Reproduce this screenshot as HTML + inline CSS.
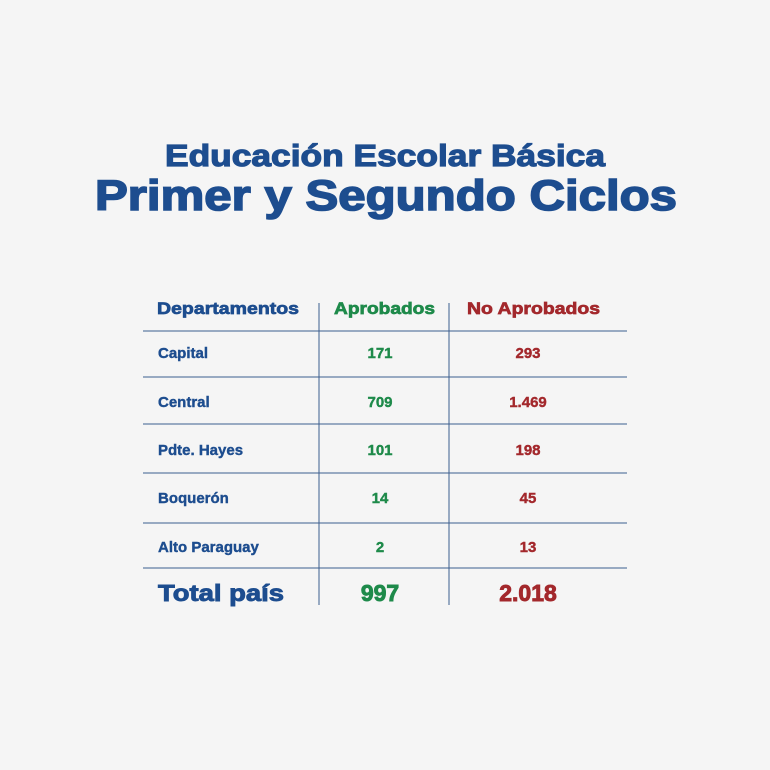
<!DOCTYPE html>
<html><head><style>
html,body{margin:0;padding:0;background:#f5f5f5;}
svg{display:block}
text{font-family:"Liberation Sans",sans-serif;font-weight:bold;}
</style></head><body>
<svg width="770" height="770" viewBox="0 0 770 770" xmlns="http://www.w3.org/2000/svg">
<rect width="770" height="770" fill="#f5f5f5"/>
<text x="165" y="166" font-size="31" fill="#1d4d8f" stroke="#1d4d8f" stroke-width="1.2" textLength="440" lengthAdjust="spacingAndGlyphs">Educación Escolar Básica</text>
<text x="95" y="210" font-size="43" fill="#1d4d8f" stroke="#1d4d8f" stroke-width="1.6" textLength="582" lengthAdjust="spacingAndGlyphs">Primer y Segundo Ciclos</text>
<g stroke="#3c5f8f" stroke-width="1">
<line x1="143" y1="331" x2="627" y2="331"/>
<line x1="143" y1="377" x2="627" y2="377"/>
<line x1="143" y1="424" x2="627" y2="424"/>
<line x1="143" y1="473" x2="627" y2="473"/>
<line x1="143" y1="523" x2="627" y2="523"/>
<line x1="143" y1="568" x2="627" y2="568"/>
<line x1="319" y1="303" x2="319" y2="605"/>
<line x1="449" y1="303" x2="449" y2="605"/>
</g>
<g font-size="17" stroke-width="0.7">
<text x="157" y="314" fill="#1d4d8f" stroke="#1d4d8f" textLength="142" lengthAdjust="spacingAndGlyphs">Departamentos</text>
<text x="334" y="314" fill="#1e8a4a" stroke="#1e8a4a" textLength="101" lengthAdjust="spacingAndGlyphs">Aprobados</text>
<text x="467" y="314" fill="#a3282c" stroke="#a3282c" textLength="133" lengthAdjust="spacingAndGlyphs">No Aprobados</text>
</g>
<g font-size="15" fill="#1d4d8f" stroke="#1d4d8f" stroke-width="0.4">
<text x="158" y="358">Capital</text>
<text x="158" y="407">Central</text>
<text x="158" y="455">Pdte. Hayes</text>
<text x="158" y="503">Boquerón</text>
<text x="158" y="552">Alto Paraguay</text>
</g>
<g font-size="15" fill="#1e8a4a" stroke="#1e8a4a" stroke-width="0.4" text-anchor="middle">
<text x="380" y="358">171</text>
<text x="380" y="407">709</text>
<text x="380" y="455">101</text>
<text x="380" y="503">14</text>
<text x="380" y="552">2</text>
</g>
<g font-size="15" fill="#a3282c" stroke="#a3282c" stroke-width="0.4" text-anchor="middle">
<text x="528" y="358">293</text>
<text x="528" y="407">1.469</text>
<text x="528" y="455">198</text>
<text x="528" y="503">45</text>
<text x="528" y="552">13</text>
</g>
<g stroke-width="0.9">
<text x="158" y="601" font-size="23" fill="#1d4d8f" stroke="#1d4d8f" textLength="126" lengthAdjust="spacingAndGlyphs">Total país</text>
<text x="380" y="601" font-size="23" fill="#1e8a4a" stroke="#1e8a4a" text-anchor="middle">997</text>
<text x="528" y="601" font-size="23" fill="#a3282c" stroke="#a3282c" text-anchor="middle">2.018</text>
</g>
</svg>
</body></html>
